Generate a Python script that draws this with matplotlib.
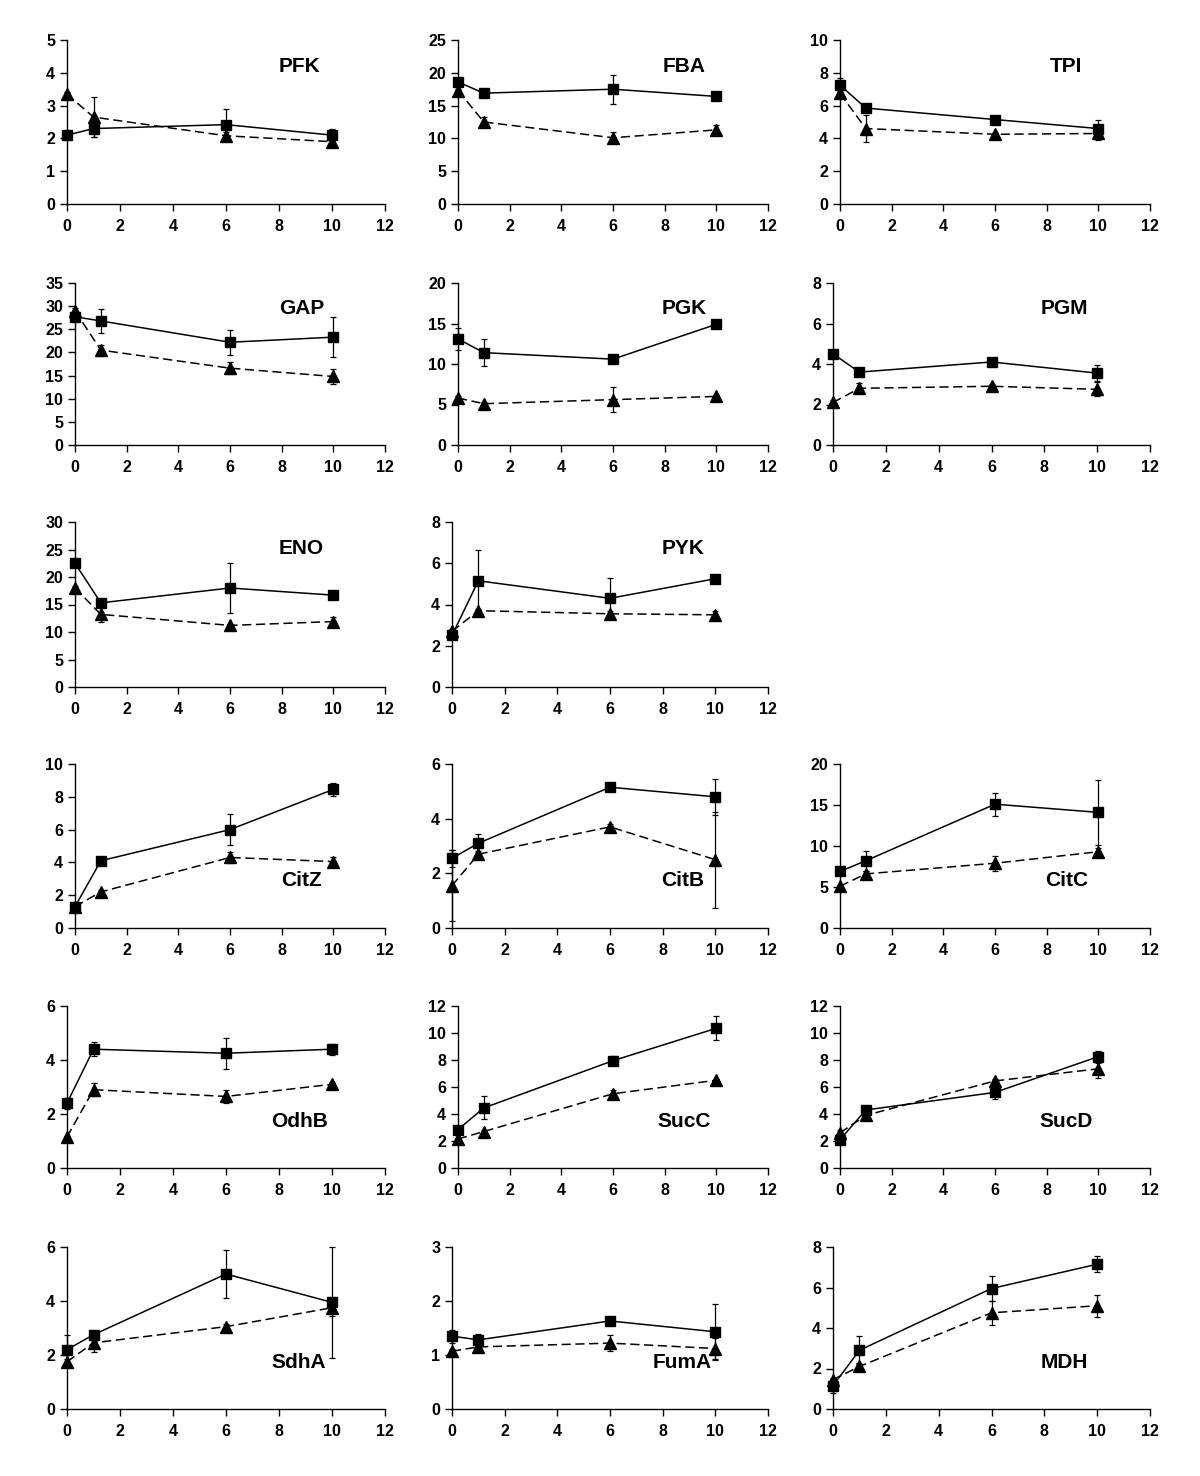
import matplotlib.pyplot as plt
from matplotlib import font_manager

# time points (h)
x = [0, 1, 6, 10]

names = ['PFK', 'FBA', 'TPI', 'GAP', 'PGK', 'PGM', 'ENO', 'PYK',
         'CitZ', 'CitB', 'CitC', 'OdhB', 'SucC', 'SucD', 'SdhA', 'FumA', 'MDH']

# squares (solid line) and their errors
sq = {
    'PFK': [2.1, 2.3, 2.42, 2.1], 'FBA': [18.6, 16.9, 17.5, 16.4],
    'TPI': [7.25, 5.85, 5.15, 4.6], 'GAP': [27.7, 26.8, 22.2, 23.3],
    'PGK': [13.1, 11.4, 10.6, 14.9], 'PGM': [4.5, 3.6, 4.1, 3.55],
    'ENO': [22.5, 15.3, 18.0, 16.7], 'PYK': [2.5, 5.15, 4.3, 5.25],
    'CitZ': [1.3, 4.1, 6.0, 8.45], 'CitB': [2.55, 3.1, 5.15, 4.8],
    'CitC': [6.9, 8.2, 15.1, 14.1], 'OdhB': [2.4, 4.4, 4.25, 4.4],
    'SucC': [2.85, 4.45, 7.95, 10.35], 'SucD': [2.1, 4.3, 5.6, 8.25],
    'SdhA': [2.2, 2.75, 5.0, 3.95], 'FumA': [1.35, 1.28, 1.63, 1.43],
    'MDH': [1.15, 2.9, 5.95, 7.15],
}
sq_err = {
    'PFK': [0.05, 0.25, 0.47, 0.2], 'FBA': [0.4, 0.3, 2.2, 0.3],
    'TPI': [0.45, 0.2, 0.15, 0.5], 'GAP': [1.0, 2.5, 2.7, 4.3],
    'PGK': [1.4, 1.7, 0.2, 0.4], 'PGM': [0.1, 0.1, 0.1, 0.4],
    'ENO': [0.5, 0.5, 4.6, 0.5], 'PYK': [0.1, 1.5, 1.0, 0.1],
    'CitZ': [0.1, 0.15, 0.95, 0.4], 'CitB': [0.3, 0.35, 0.15, 0.65],
    'CitC': [0.4, 1.2, 1.4, 4.0], 'OdhB': [0.2, 0.25, 0.58, 0.2],
    'SucC': [0.2, 0.85, 0.35, 0.9], 'SucD': [0.2, 0.2, 0.5, 0.45],
    'SdhA': [0.55, 0.15, 0.9, 2.05], 'FumA': [0.12, 0.1, 0.05, 0.52],
    'MDH': [0.35, 0.7, 0.6, 0.4],
}
# triangles (dashed line) and their errors
tri = {
    'PFK': [3.35, 2.65, 2.08, 1.9], 'FBA': [17.3, 12.5, 10.1, 11.3],
    'TPI': [6.75, 4.6, 4.25, 4.3], 'GAP': [29.0, 20.5, 16.6, 14.8],
    'PGK': [5.8, 5.1, 5.6, 6.0], 'PGM': [2.1, 2.8, 2.9, 2.75],
    'ENO': [18.0, 13.2, 11.2, 11.9], 'PYK': [2.7, 3.7, 3.55, 3.5],
    'CitZ': [1.3, 2.2, 4.3, 4.05], 'CitB': [1.55, 2.7, 3.7, 2.5],
    'CitC': [5.1, 6.6, 7.9, 9.3], 'OdhB': [1.15, 2.9, 2.65, 3.1],
    'SucC': [2.15, 2.7, 5.5, 6.5], 'SucD': [2.6, 3.9, 6.45, 7.35],
    'SdhA': [1.75, 2.45, 3.05, 3.75], 'FumA': [1.07, 1.15, 1.22, 1.12],
    'MDH': [1.45, 2.1, 4.75, 5.1],
}
tri_err = {
    'PFK': [0.05, 0.6, 0.1, 0.05], 'FBA': [0.3, 0.8, 0.8, 0.8],
    'TPI': [0.2, 0.8, 0.1, 0.4], 'GAP': [0.5, 1.2, 1.3, 1.6],
    'PGK': [0.2, 0.2, 1.5, 0.2], 'PGM': [0.1, 0.25, 0.1, 0.35],
    'ENO': [0.3, 1.3, 0.3, 0.8], 'PYK': [0.1, 0.1, 0.15, 0.2],
    'CitZ': [0.1, 0.1, 0.35, 0.3], 'CitB': [1.3, 0.1, 0.1, 1.75],
    'CitC': [0.2, 0.3, 0.9, 0.4], 'OdhB': [0.05, 0.25, 0.25, 0.1],
    'SucC': [0.1, 0.1, 0.25, 0.1], 'SucD': [0.2, 0.2, 0.15, 0.7],
    'SdhA': [0.1, 0.35, 0.1, 0.3], 'FumA': [0.05, 0.05, 0.15, 0.2],
    'MDH': [0.1, 0.15, 0.6, 0.55],
}
ymax = {'PFK': 5, 'FBA': 25, 'TPI': 10, 'GAP': 35, 'PGK': 20, 'PGM': 8,
        'ENO': 30, 'PYK': 8, 'CitZ': 10, 'CitB': 6, 'CitC': 20,
        'OdhB': 6, 'SucC': 12, 'SucD': 12, 'SdhA': 6, 'FumA': 3, 'MDH': 8}
ystep = {'PFK': 1, 'FBA': 5, 'TPI': 2, 'GAP': 5, 'PGK': 5, 'PGM': 2,
         'ENO': 5, 'PYK': 2, 'CitZ': 2, 'CitB': 2, 'CitC': 5,
         'OdhB': 2, 'SucC': 2, 'SucD': 2, 'SdhA': 2, 'FumA': 1, 'MDH': 2}

# grid positions (row, col)
slots = [(0, 0), (0, 1), (0, 2), (1, 0), (1, 1), (1, 2), (2, 0), (2, 1),
         (3, 0), (3, 1), (3, 2), (4, 0), (4, 1), (4, 2), (5, 0), (5, 1), (5, 2)]

W, H = 1200, 1476
row_top = [40, 283, 522, 764, 1006, 1247]
row_bot = [204, 445, 687, 928, 1168, 1409]
col_right = [385, 768, 1150]

installed = {f.name for f in font_manager.fontManager.ttflist}
narrow = 'Liberation Sans Narrow' if 'Liberation Sans Narrow' in installed else 'Liberation Sans'
plt.rcParams['font.family'] = ['Liberation Sans', 'DejaVu Sans']

fig = plt.figure(figsize=(W / 100, H / 100), dpi=100)

for name, (r, c) in zip(names, slots):
    wide = ymax[name] >= 10
    if c == 0:
        left = 75 if wide else 67
    elif c == 1:
        left = 452 if r in (2, 3, 5) else 458
    else:
        left = 840 if wide else 833
    fam = 'Liberation Sans' if r < 2 else narrow
    ax = fig.add_axes([left / W, 1 - row_bot[r] / H,
                       (col_right[c] - left) / W, (row_bot[r] - row_top[r]) / H])
    ax.errorbar(x, sq[name], yerr=sq_err[name], color='black', lw=1.1,
                marker='s', ms=7.5, elinewidth=0.9, capsize=2, capthick=0.9)
    ax.errorbar(x, tri[name], yerr=tri_err[name], color='black', lw=1.1,
                ls=(0, (6, 3)), marker='^', ms=8, elinewidth=0.9,
                capsize=2, capthick=0.9)
    ax.set_xlim(0, 12)
    ax.set_ylim(0, ymax[name])
    ax.set_xticks(range(0, 13, 2))
    ax.set_yticks(range(0, ymax[name] + 1, ystep[name]))
    for s in ['top', 'right']:
        ax.spines[s].set_visible(False)
    for s in ['left', 'bottom']:
        ax.spines[s].set_linewidth(1.0)
    ax.tick_params(direction='out', length=5, width=1, labelsize=11.5)
    ax.tick_params(axis='x', pad=6)
    for lab in ax.get_xticklabels() + ax.get_yticklabels():
        lab.set_fontweight('bold')
        lab.set_family(fam)
    for child in ax.get_children():
        try:
            child.set_clip_on(False)
        except Exception:
            pass
    ty = 0.84 if r < 3 else 0.29
    ax.text(0.73, ty, name, transform=ax.transAxes, ha='center', va='center',
            fontsize=15, fontweight='bold', family=fam)

fig.savefig('out.png', dpi=100)
